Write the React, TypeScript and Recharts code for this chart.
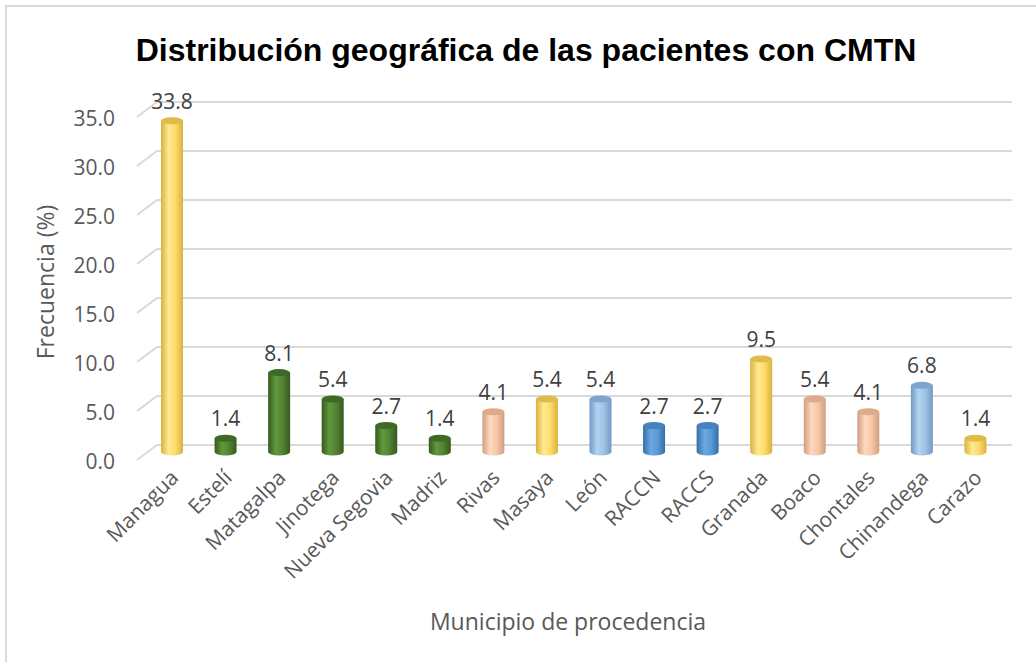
import React from "react";
import { BarChart, Bar, XAxis, YAxis, CartesianGrid, LabelList } from "recharts";

// Municipios y porcentaje de pacientes
const municipios = [
  "Managua",
  "Estelí",
  "Matagalpa",
  "Jinotega",
  "Nueva Segovia",
  "Madriz",
  "Rivas",
  "Masaya",
  "León",
  "RACCN",
  "RACCS",
  "Granada",
  "Boaco",
  "Chontales",
  "Chinandega",
  "Carazo",
];
const frecuencia = [33.8, 1.4, 8.1, 5.4, 2.7, 1.4, 4.1, 5.4, 5.4, 2.7, 2.7, 9.5, 5.4, 4.1, 6.8, 1.4];
const region = [
  "pacifico", "norte", "norte", "norte", "norte", "norte", "sur", "pacifico",
  "occidente", "caribe", "caribe", "pacifico", "sur", "sur", "occidente", "pacifico",
];
const yTicks = [0, 5, 10, 15, 20, 25, 30, 35];

const PALETTE: Record<string, { edge: string; light: string; mid: string; top: string }> = {
  pacifico: { edge: "#D8B23E", light: "#FFEA92", mid: "#FFDB6A", top: "#DFBB4A" },
  norte: { edge: "#37591F", light: "#609A3C", mid: "#548235", top: "#3E6926" },
  sur: { edge: "#CF9E80", light: "#FFD9C0", mid: "#F6C7A8", top: "#DFAA8A" },
  occidente: { edge: "#7399C2", light: "#B3D3F0", mid: "#9DC3E6", top: "#7DA5CF" },
  caribe: { edge: "#346EA6", light: "#6AA8E0", mid: "#5B9BD5", top: "#4682BE" },
};

const FONT = "'Open Sans', 'Noto Sans', sans-serif";
const GRAY = "#595959";

const Cylinder = (props: any) => {
  const { x, y, width, height, index } = props;
  const c = PALETTE[region[index]];
  const rx = width / 2;
  const ry = 3.5;
  const id = `cyl-${index}`;
  return (
    <g>
      <defs>
        <linearGradient id={id} x1="0" x2="1" y1="0" y2="0">
          <stop offset="0" stopColor={c.edge} />
          <stop offset="0.35" stopColor={c.light} />
          <stop offset="0.65" stopColor={c.mid} />
          <stop offset="1" stopColor={c.edge} />
        </linearGradient>
      </defs>
      <path
        d={`M${x},${y} L${x},${y + height} A${rx},${ry} 0 0 0 ${x + width},${y + height} L${x + width},${y} Z`}
        fill={`url(#${id})`}
      />
      <ellipse cx={x + rx} cy={y} rx={rx} ry={ry} fill={c.top} />
    </g>
  );
};

const YTick = (props: any) => {
  const { x, y, payload } = props;
  return (
    <g>
      <line x1={x - 8} y1={y + 8} x2={x + 12} y2={y - 7} stroke="#D9D9D9" strokeWidth={2} />
      <text x={x - 30} y={y + 9} textAnchor="end" dominantBaseline="central" fill={GRAY} fontSize={21} fontFamily={FONT}>
        {payload.value.toFixed(1)}
      </text>
    </g>
  );
};

const XTick = (props: any) => {
  const { x, y, payload } = props;
  const tx = x + 8;
  const ty = y + 19;
  return (
    <text
      x={tx}
      y={ty}
      textAnchor="end"
      transform={`rotate(-45, ${tx}, ${ty})`}
      fill={GRAY}
      fontSize={21}
      fontFamily={FONT}
    >
      {payload.value}
    </text>
  );
};

const gridLine = (props: any) => {
  const { x1, x2, y1 } = props;
  return <line key={props.key} x1={x1 + 12} x2={x2 + 10} y1={y1 - 7} y2={y1 - 7} stroke="#D9D9D9" strokeWidth={2} />;
};

export default function App() {
  const data = municipios.map((m, i) => ({ name: m, value: frecuencia[i] }));
  return (
    <div style={{ position: "absolute", left: 0, top: 0, width: 1036, height: 662, overflow: "hidden", background: "#fff" }}>
      <div
        style={{
          position: "absolute",
          left: 5,
          top: 5,
          width: 1100,
          height: 700,
          borderLeft: "2px solid #D9D9D9",
          borderTop: "2px solid #D9D9D9",
        }}
      />
      <div
        style={{
          position: "absolute",
          left: 0,
          top: 32,
          width: 1052,
          textAlign: "center",
          fontFamily: "'Liberation Sans', Arial, sans-serif",
          fontWeight: "bold",
          fontSize: 32,
          color: "#000",
        }}
      >
        Distribución geográfica de las pacientes con CMTN
      </div>
      <div style={{ position: "absolute", left: 0, top: 0 }}>
        <BarChart width={1036} height={662} data={data} margin={{ top: 109, right: 34, bottom: 0, left: 0 }}>
          <CartesianGrid vertical={false} horizontal={gridLine} />
          <YAxis
            domain={[0, 35]}
            ticks={yTicks}
            width={145}
            axisLine={false}
            tickLine={false}
            tickSize={0}
            tickMargin={0}
            tick={<YTick />}
            label={{
              content: () => (
                <text
                  x={45}
                  y={282}
                  transform="rotate(-90, 45, 282)"
                  textAnchor="middle"
                  dominantBaseline="central"
                  fill={GRAY}
                  fontSize={23}
                  fontFamily={FONT}
                >
                  Frecuencia (%)
                </text>
              ),
            }}
          />
          <XAxis
            dataKey="name"
            height={210}
            axisLine={false}
            tickLine={false}
            interval={0}
            tick={<XTick />}
            label={{
              content: () => (
                <text x={568} y={621} textAnchor="middle" dominantBaseline="central" fill={GRAY} fontSize={23} fontFamily={FONT}>
                  Municipio de procedencia
                </text>
              ),
            }}
          />
          <Bar dataKey="value" barSize={22} shape={<Cylinder />} isAnimationActive={false}>
            <LabelList
              dataKey="value"
              position="top"
              offset={12}
              fill="#404040"
              fontSize={21}
              fontFamily={FONT}
              formatter={(v: any) => Number(v).toFixed(1)}
            />
          </Bar>
        </BarChart>
      </div>
    </div>
  );
}
